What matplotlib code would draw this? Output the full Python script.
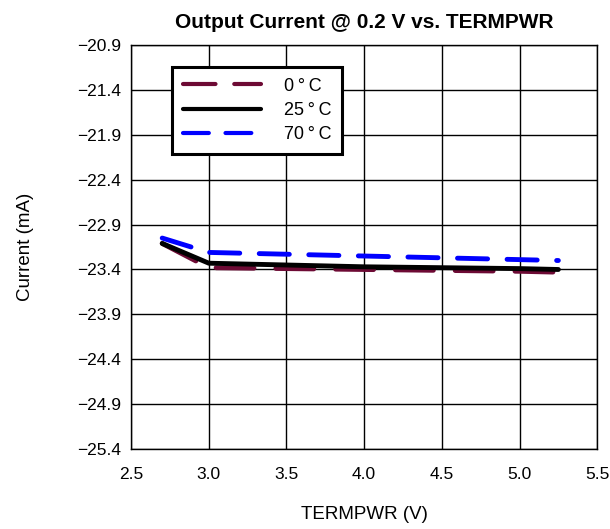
import matplotlib.pyplot as plt

plt.rcParams['font.family'] = ['Liberation Sans', 'DejaVu Sans']

# TERMPWR supply voltage (V)
termpwr = [2.7, 3.0, 3.5, 4.0, 4.5, 5.0, 5.25]

# output current (mA) per temperature
cur_0c = [-23.11, -23.38, -23.39, -23.40, -23.41, -23.42, -23.43]
cur_25c = [-23.11, -23.33, -23.35, -23.37, -23.38, -23.39, -23.40]
cur_70c = [-23.05, -23.21, -23.23, -23.25, -23.27, -23.29, -23.30]

labels = ["0\u2009\u00b0\u2009C", "25\u2009\u00b0\u2009C", "70\u2009\u00b0\u2009C"]
yticks = [-20.9, -21.4, -21.9, -22.4, -22.9, -23.4, -23.9, -24.4, -24.9, -25.4]
xticks = [2.5, 3.0, 3.5, 4.0, 4.5, 5.0, 5.5]

fig = plt.figure(figsize=(6.1, 5.29), dpi=100)
ax = fig.add_axes([0.215, 0.151, 0.764, 0.764])

ax.plot(termpwr, cur_0c, color="#6d0a34", lw=3.5, dashes=(7.8, 4.5),
        dash_capstyle="round", label=labels[0])
ax.plot(termpwr, cur_25c, color="black", lw=3.5, solid_capstyle="round",
        label=labels[1])
ax.plot(termpwr, cur_70c, color="#0000ff", lw=3.5, dashes=(6.2, 4),
        dash_capstyle="round", label=labels[2])

ax.set_xlim(2.5, 5.5)
ax.set_ylim(-25.4, -20.9)
ax.set_xticks(xticks)
ax.set_xticklabels([f"{v:.1f}" for v in xticks])
ax.set_yticks(yticks)
ax.set_yticklabels([f"\u2212{abs(v):.1f}" for v in yticks])
ax.grid(True, color="black", lw=1)
ax.tick_params(length=0, labelsize=12.5)
ax.tick_params(axis="x", pad=13)
ax.tick_params(axis="y", pad=7)
for s in ax.spines.values():
    s.set_linewidth(1)

ax.set_title("Output Current @ 0.2 V vs. TERMPWR", fontsize=15,
             fontweight="bold", pad=12)
ax.set_xlabel("TERMPWR (V)", fontsize=13.5, labelpad=17)
ax.set_ylabel("Current (mA)", fontsize=13.5, labelpad=31)

leg = ax.legend(loc="upper left", bbox_to_anchor=(0.088, 0.946),
                borderaxespad=0, fontsize=13, handlelength=4.3,
                handletextpad=1.3, borderpad=0.6, labelspacing=0.4,
                fancybox=False, framealpha=1, edgecolor="black")
leg.get_frame().set_linewidth(2.2)
for line in leg.get_lines():
    line.set_linewidth(3)

fig.savefig("out.png", dpi=100)
